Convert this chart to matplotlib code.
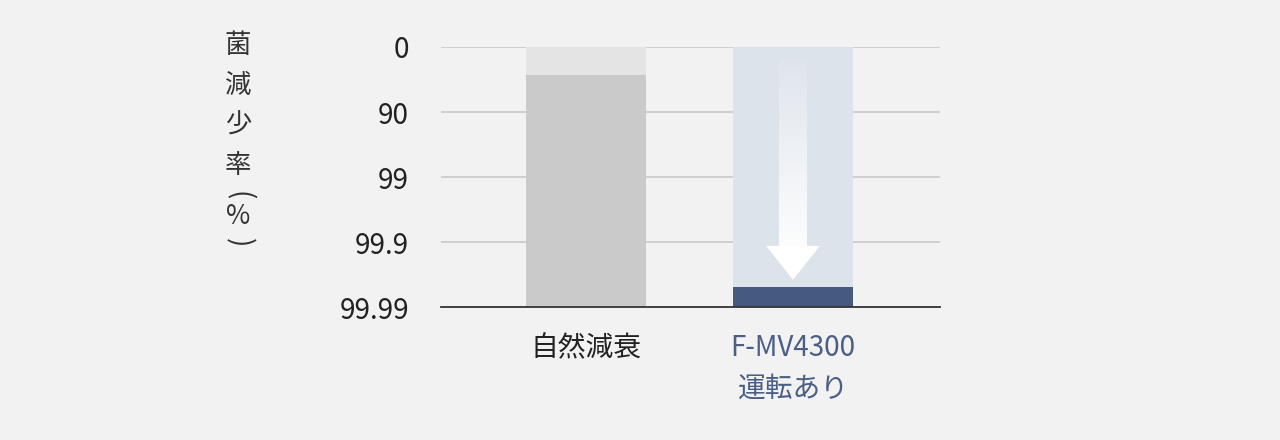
import matplotlib
matplotlib.use("Agg")
import matplotlib.pyplot as plt
import numpy as np
from matplotlib.patches import Polygon

plt.rcParams['font.family'] = ['Noto Sans CJK JP', 'DejaVu Sans']

# ---- data ----
categories = ["自然減衰", "F-MV4300\n運転あり"]
tick_values = [0, 1, 2, 3, 4]                 # log reduction steps
tick_labels = ["0", "90", "99", "99.9", "99.99"]
max_log = 4.0
bar_log = [0.43, 3.69]                        # log reduction reached (top of solid bar)
bg_colors = ["#e4e4e4", "#dde3eb"]
bar_colors = ["#cacaca", "#465a80"]
label_colors = ["#222222", "#4b5f85"]
ylabel_chars = ["菌", "減", "少", "率"]

W, H = 1280, 440
fig = plt.figure(figsize=(W / 100, H / 100), dpi=100)
fig.patch.set_facecolor("#f2f2f2")

def fx(px):
    return px / W

def fy(py):
    return 1 - py / H

ax = fig.add_axes([fx(441), fy(307), fx(940) - fx(441), fy(47) - fy(307)])
ax.set_facecolor("#f2f2f2")

x = np.arange(len(categories))
bw = 0.58
ax.set_xlim(-0.70, 1.71)
ax.set_ylim(max_log, 0)

# grid
for v in tick_values[:-1]:
    ax.axhline(v, color="#cccccc", lw=1.3, zorder=0)

# background (full-height) bars
ax.bar(x, [max_log] * len(x), bottom=0, width=bw, color=bg_colors, zorder=1)
# solid bars
heights = [max_log - b for b in bar_log]
ax.bar(x, heights, bottom=bar_log, width=bw, color=bar_colors, zorder=2)

# gradient arrow on second bar
cx = x[1]
shaft_hw = 0.068
head_hw = 0.13
y_start = 0.2
y_tip = bar_log[1] - 0.11
head_len = 0.52
y_head = y_tip - head_len
verts = [(cx - shaft_hw, y_start), (cx + shaft_hw, y_start), (cx + shaft_hw, y_head),
         (cx + head_hw, y_head), (cx, y_tip), (cx - head_hw, y_head), (cx - shaft_hw, y_head)]
poly = Polygon(verts, closed=True, facecolor="none", edgecolor="none", zorder=3)
ax.add_patch(poly)
n = 256
grad = np.zeros((n, 1, 4))
grad[..., :3] = 1.0
yy = np.linspace(y_start, y_tip, n)
alpha = np.clip((yy - y_start) / (y_head - y_start), 0, 1) * 0.85 + 0.08
alpha[yy >= y_head] = 1.0
grad[:, 0, 3] = alpha
im = ax.imshow(grad, extent=(cx - head_hw, cx + head_hw, y_tip, y_start),
               aspect="auto", zorder=3, interpolation="bilinear")
im.set_clip_path(poly)
ax.set_xlim(-0.70, 1.71)
ax.set_ylim(max_log, 0)

# axes styling
for s in ["top", "right", "left"]:
    ax.spines[s].set_visible(False)
ax.spines["bottom"].set_color("#333333")
ax.spines["bottom"].set_linewidth(1.3)
ax.spines["bottom"].set_zorder(4)

ax.set_yticks(tick_values)
ax.set_yticklabels(tick_labels, fontsize=20, color="#222222")
ax.tick_params(axis="y", length=0, pad=23)

ax.set_xticks(x)
ax.set_xticklabels(categories, fontsize=20, linespacing=1.45, va="top")
ax.tick_params(axis="x", length=0, pad=19)
for lab, c in zip(ax.get_xticklabels(), label_colors):
    lab.set_color(c)

# vertical y label
yc = 45.5
for ch in ylabel_chars:
    fig.text(fx(238), fy(yc), ch, fontsize=19, color="#333333", ha="center", va="center")
    yc += 40
fig.text(fx(238), fy(196), "(", fontsize=20, color="#333333", ha="center", va="center", rotation=-90)
fig.text(fx(238), fy(216), "%", fontsize=19, color="#333333", ha="center", va="center")
fig.text(fx(238), fy(243), ")", fontsize=20, color="#333333", ha="center", va="center", rotation=-90)

fig.savefig("out.png", dpi=100, facecolor=fig.get_facecolor())
